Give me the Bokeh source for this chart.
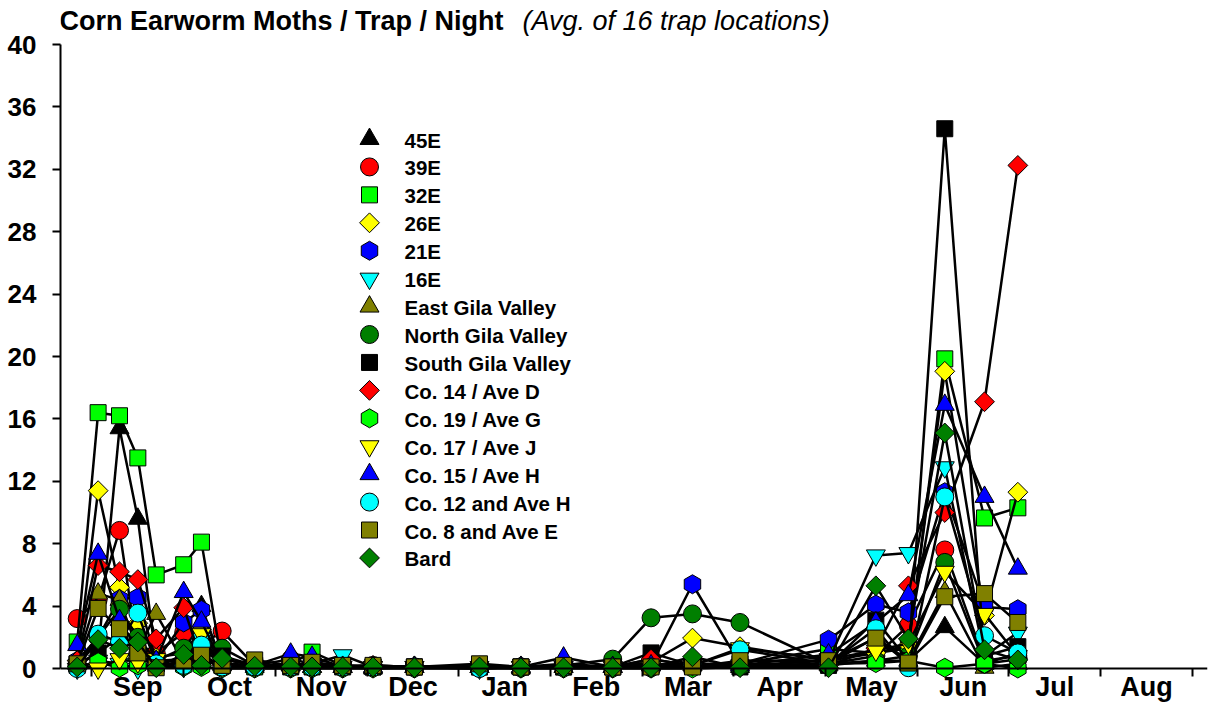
import numpy as np
from bokeh.plotting import figure
from bokeh.models import FixedTicker, Label, Range1d, Span
from bokeh.core.properties import value
from bokeh.embed import file_html
from bokeh.resources import INLINE

# ---------------- data ----------------
dates = ["Aug 27", "Sep 3", "Sep 10", "Sep 16", "Sep 22", "Oct 1", "Oct 7", "Oct 14",
         "Oct 25", "Nov 6", "Nov 13", "Nov 23", "Dec 3", "Dec 17", "Jan 8", "Jan 22",
         "Feb 5", "Feb 20", "Mar 4", "Mar 18", "Apr 3", "May 2", "May 18", "May 29",
         "Jun 10", "Jun 23", "Jul 4"]

month_labels = ["Sep", "Oct", "Nov", "Dec", "Jan", "Feb", "Mar", "Apr", "May", "Jun", "Jul", "Aug"]
y_ticks = [0, 4, 8, 12, 16, 20, 24, 28, 32, 36, 40]

s45E = [0.3, 1.0, 15.4, 9.6, 0.5, 0.6, 4.0, 0.3, 0.1, 0.2, 0.1, 0.1, 0.0, 0.1, 0.1, 0.0, 0.1, 0.1, 0.3, 0.2, 0.1, 0.3, 2.0, 0.5, 2.65, 0.3, 1.0]
s39E = [3.2, 4.4, 8.85, 1.0, 1.0, 2.3, 1.5, 2.4, 0.2, 0.6, 0.3, 0.1, 0.2, 0.1, 0.1, 0.1, 0.2, 0.1, 0.6, 0.2, 0.2, 0.3, 0.8, 2.75, 7.6, 0.5, 0.8]
s32E = [1.7, 16.4, 16.2, 13.5, 6.0, 6.65, 8.1, 0.2, 0.1, 0.3, 1.05, 0.2, 0.1, 0.1, 0.1, 0.1, 0.1, 0.1, 0.2, 0.3, 0.3, 1.25, 1.0, 1.3, 19.85, 9.65, 10.3]
s26E = [0.3, 11.4, 5.2, 2.9, 0.7, 1.0, 2.5, 0.3, 0.1, 0.1, 0.1, 0.1, 0.1, 0.1, 0.1, 0.1, 0.1, 0.1, 0.4, 1.95, 1.4, 0.5, 1.0, 1.5, 19.05, 3.4, 11.3]
s21E = [0.5, 2.0, 4.45, 4.55, 0.5, 2.95, 3.75, 0.3, 0.1, 0.2, 0.2, 0.1, 0.1, 0.1, 0.1, 0.1, 0.3, 0.1, 0.2, 5.4, 0.3, 1.85, 4.1, 3.6, 11.3, 3.95, 3.8]
s16E = [0.0, 0.5, 0.3, 0.0, 0.2, 0.1, 1.9, 0.1, 0.1, 0.2, 0.3, 0.85, 0.1, 0.1, 0.0, 0.1, 0.1, 0.1, 0.1, 0.2, 0.2, 0.5, 7.25, 7.4, 12.9, 0.8, 2.3]
sEastGila = [0.5, 4.8, 4.4, 1.2, 3.5, 0.4, 0.5, 0.2, 0.2, 0.2, 0.1, 0.1, 0.1, 0.1, 0.1, 0.1, 0.1, 0.1, 0.2, 0.2, 0.3, 0.2, 0.5, 0.5, 4.9, 0.05, 0.3]
sNorthGila = [0.2, 2.0, 3.8, 2.0, 0.5, 1.3, 0.8, 1.3, 0.2, 0.2, 0.1, 0.1, 0.1, 0.1, 0.1, 0.1, 0.2, 0.6, 3.25, 3.5, 2.95, 0.3, 0.5, 0.8, 6.8, 0.3, 0.6]
sSouthGila = [0.2, 1.0, 2.0, 1.5, 0.3, 0.3, 1.2, 0.8, 0.2, 0.1, 0.1, 0.1, 0.1, 0.1, 0.1, 0.1, 0.1, 0.1, 1.0, 0.2, 0.1, 0.2, 3.1, 0.5, 34.6, 0.8, 1.4]
sCo14 = [0.5, 6.6, 6.2, 5.7, 1.9, 3.9, 0.5, 0.2, 0.1, 0.3, 0.2, 0.1, 0.2, 0.1, 0.1, 0.1, 0.1, 0.1, 0.6, 0.2, 0.2, 0.2, 1.3, 5.3, 10.0, 17.1, 32.25]
sCo19 = [0.1, 0.4, 0.05, 0.2, 0.1, 0.1, 0.1, 0.0, 0.0, 0.0, 0.0, 0.0, 0.0, 0.0, 0.0, 0.0, 0.0, 0.0, 0.0, 0.0, 0.1, 0.3, 0.35, 0.5, 0.05, 0.3, 0.0]
sCo17 = [0.2, 0.0, 0.6, 0.4, 0.6, 0.3, 2.2, 0.1, 0.1, 0.1, 0.1, 0.1, 0.1, 0.1, 0.1, 0.1, 0.1, 0.1, 0.1, 0.2, 1.3, 0.6, 1.15, 1.6, 6.2, 3.5, 0.8]
sCo15 = [1.5, 7.35, 3.1, 1.2, 0.5, 4.9, 3.0, 0.3, 0.2, 0.95, 0.75, 0.1, 0.1, 0.1, 0.1, 0.1, 0.7, 0.1, 0.2, 0.3, 0.2, 0.9, 2.95, 4.7, 16.9, 11.0, 6.4]
sCo12 = [0.0, 2.2, 1.7, 3.55, 0.3, 0.2, 1.5, 0.1, 0.1, 0.1, 0.1, 0.1, 0.1, 0.1, 0.0, 0.1, 0.1, 0.1, 0.1, 0.2, 1.2, 0.3, 2.55, 0.05, 11.0, 2.1, 1.0]
sCo8 = [0.3, 3.85, 2.55, 1.0, 0.05, 0.5, 0.85, 0.2, 0.55, 0.2, 0.4, 0.2, 0.2, 0.1, 0.3, 0.1, 0.2, 0.1, 0.1, 0.1, 0.5, 0.5, 1.95, 0.35, 4.6, 4.8, 2.95]
sBard = [0.1, 1.85, 1.3, 1.7, 0.05, 0.9, 0.2, 0.65, 0.15, 0.1, 0.1, 0.1, 0.1, 0.05, 0.1, 0.05, 0.05, 0.05, 0.05, 0.75, 0.05, 0.05, 5.3, 1.9, 15.1, 1.2, 0.55]

names = ["45E", "39E", "32E", "26E", "21E", "16E", "East Gila Valley", "North Gila Valley",
         "South Gila Valley", "Co. 14 / Ave D", "Co. 19 / Ave G", "Co. 17 / Ave J",
         "Co. 15 / Ave H", "Co. 12 and Ave H", "Co. 8 and Ave E", "Bard"]
values = [s45E, s39E, s32E, s26E, s21E, s16E, sEastGila, sNorthGila, sSouthGila,
          sCo14, sCo19, sCo17, sCo15, sCo12, sCo8, sBard]

# ---------------- styles ----------------
DIAMOND = ("square", 14, np.pi / 4)
styles = [
    ("#000000", ("triangle", 19, 0.0)),
    ("#FF0000", ("circle", 18, 0.0)),
    ("#00FF00", ("square", 16, 0.0)),
    ("#FFFF00", DIAMOND),
    ("#0000FF", ("hex", 19, np.pi / 6)),
    ("#00FFFF", ("inverted_triangle", 19, 0.0)),
    ("#808000", ("triangle", 19, 0.0)),
    ("#007F00", ("circle", 18, 0.0)),
    ("#000000", ("square", 16, 0.0)),
    ("#FF0000", DIAMOND),
    ("#00FF00", ("hex", 19, np.pi / 6)),
    ("#FFFF00", ("inverted_triangle", 19, 0.0)),
    ("#0000FF", ("triangle", 19, 0.0)),
    ("#00FFFF", ("circle", 18, 0.0)),
    ("#808000", ("square", 16, 0.0)),
    ("#007F00", DIAMOND),
]

# season month position (Sep 1 = 1.0)
season = ["Aug", "Sep", "Oct", "Nov", "Dec", "Jan", "Feb", "Mar", "Apr", "May", "Jun", "Jul"]
ndays = {"Aug": 31, "Sep": 30, "Oct": 31, "Nov": 30, "Dec": 31, "Jan": 31, "Feb": 28,
         "Mar": 31, "Apr": 30, "May": 31, "Jun": 30, "Jul": 31}


def month_pos(d):
    m, day = d.split()
    return season.index(m) + (int(day) - 1) / ndays[m]


xs = [month_pos(d) for d in dates]

# ---------------- figure geometry ----------------
W, H = 1208, 705
ML, MR, MT, MB = 60, 1, 0, 24
FW, FH = W - ML - MR, H - MT - MB
PX_PER_Y = 15.6                      # pixels per count
ZERO_PX = 668                        # canvas row of y = 0
Y_END = ZERO_PX / PX_PER_Y           # frame top (canvas row 0) in data units
Y_START = -(H - MB - ZERO_PX) / PX_PER_Y
X0, X1 = 0.6565, 13.165
FONT = "Liberation Sans"

p = figure(width=W, height=H, output_backend="svg", toolbar_location=None,
           x_range=Range1d(X0, X1), y_range=Range1d(Y_START, Y_END),
           min_border_left=ML, min_border_right=MR, min_border_top=MT, min_border_bottom=MB)
p.xgrid.visible = False
p.ygrid.visible = False
p.outline_line_color = None
p.background_fill_color = "white"
p.border_fill_color = "white"

yax = p.yaxis[0]
yax.ticker = FixedTicker(ticks=y_ticks)
yax.bounds = (0, 40)
yax.major_tick_out = 8
yax.major_tick_in = 0
yax.minor_tick_out = 0
yax.minor_tick_in = 0
yax.axis_line_width = 2
yax.major_tick_line_width = 2
yax.major_label_standoff = 16
yax.major_label_text_font = FONT
yax.major_label_text_font_size = "26px"
yax.major_label_text_font_style = "bold"
yax.major_label_text_color = "black"

gap = H - MB - ZERO_PX               # pixels between y=0 and the frame bottom
xax = p.xaxis[0]
mids = [i + 1.5 for i in range(len(month_labels))]
xax.ticker = FixedTicker(ticks=mids, minor_ticks=[i + 1 for i in range(len(month_labels) + 1)])
xax.major_label_overrides = {m: lab for m, lab in zip(mids, month_labels)}
xax.axis_line_color = None
xax.major_tick_out = 0
xax.major_tick_in = 0
xax.minor_tick_in = gap
xax.minor_tick_out = 8 - gap
xax.minor_tick_line_width = 2
xax.minor_tick_line_color = "black"
xax.major_label_standoff = -10
xax.major_label_text_font = FONT
xax.major_label_text_font_size = "27px"
xax.major_label_text_font_style = "bold"
xax.major_label_text_color = "black"

for name, vals, (col, (mk, sz, ang)) in zip(names, values, styles):
    p.line(xs, vals, line_color="black", line_width=2.5, line_join="round")
    p.scatter(xs, vals, marker=mk, size=sz, angle=ang, fill_color=col,
              line_color="black", line_width=1)

# x axis line at y = 0
p.add_layout(Span(location=0, dimension="width", line_color="black", line_width=2))

# ---------------- legend (drawn manually so markers keep their rotation) ----------------
def px_to_x(px):
    return X0 + (px - ML) * (X1 - X0) / FW


def py_to_y(py):
    return Y_END - (py - MT) * (Y_END - Y_START) / FH


LEG_MARK_PX, LEG_TEXT_PX, LEG_Y0_PX, LEG_DY_PX = 369, 404, 138.5, 27.93
for i, (name, (col, (mk, sz, ang))) in enumerate(zip(names, styles)):
    ly = py_to_y(LEG_Y0_PX + i * LEG_DY_PX)
    p.scatter([px_to_x(LEG_MARK_PX)], [ly], marker=mk, size=sz, angle=ang, fill_color=col,
              line_color="black", line_width=1)
    p.text([px_to_x(LEG_TEXT_PX)], [ly], text=[name], text_font=value(FONT),
           text_font_style="bold", text_font_size="20.5px", text_color="black",
           text_baseline="middle", text_align="left", y_offset=1)

# ---------------- title ----------------
TITLE_BASE_PX = 20.5
p.add_layout(Label(x=-1, y=FH - TITLE_BASE_PX, x_units="screen", y_units="screen",
                   text="Corn Earworm Moths / Trap / Night", text_font=FONT,
                   text_font_size="27px", text_font_style="bold", text_color="black",
                   text_baseline="alphabetic"))
p.add_layout(Label(x=462, y=FH - TITLE_BASE_PX, x_units="screen", y_units="screen",
                   text="(Avg. of 16 trap locations)", text_font=FONT,
                   text_font_size="27px", text_font_style="italic", text_color="black",
                   text_baseline="alphabetic"))

open("out.html", "w").write(file_html(p, INLINE))
